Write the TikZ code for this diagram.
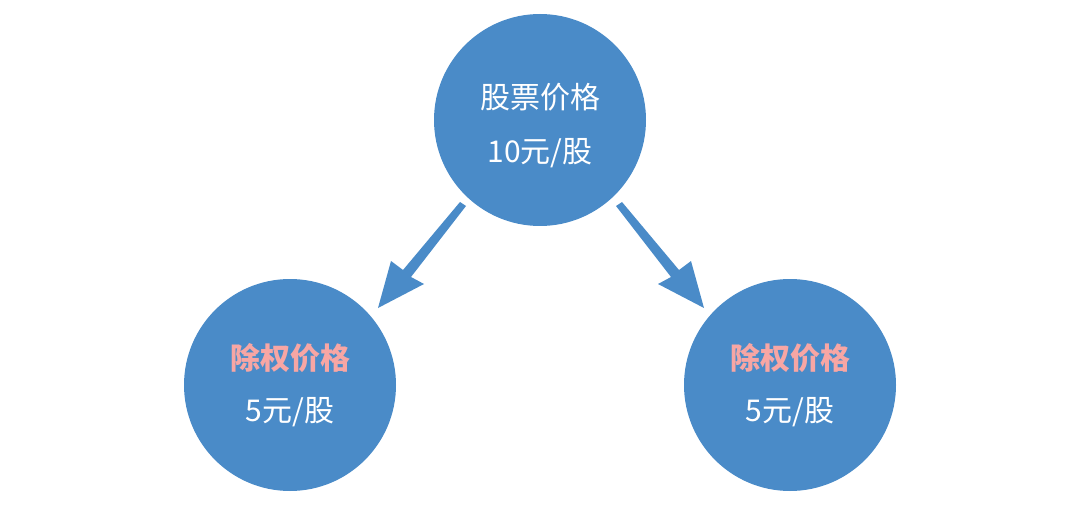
\documentclass[tikz,border=0pt]{standalone}
\usepackage{fontspec}
\setmainfont{Noto Sans CJK SC}
\begin{document}
\begin{tikzpicture}[x=1pt,y=-1pt,
  circ/.style={circle,fill=cblue,minimum size=212pt,inner sep=0pt},
  txt/.style={font=\fontsize{30}{36}\selectfont,text=white},
  pink/.style={font=\fontsize{30}{36}\selectfont\bfseries,text=cpink}]
\definecolor{cblue}{HTML}{4A8BC8}
\definecolor{cpink}{HTML}{F7A6A4}
\useasboundingbox (0,0) rectangle (1080,508);
\node[circ] (top) at (540,120) {};
\node[circ] (left) at (290,385) {};
\node[circ] (right) at (790,385) {};
\node[txt] (t1) at (540,97) {股票价格};
\node[txt] (t2) at (540,153) {10元/股};
\node[pink] (l1) at (290,358) {除权价格};
\node[txt] (l2) at (290,412) {5元/股};
\node[pink] (r1) at (790,358) {除权价格};
\node[txt] (r2) at (790,412) {5元/股};
\fill[cblue] (460,202) -- (466,206) -- (411,277) -- (424,284) -- (378,308) -- (391,261) -- (403,270) -- cycle;
\fill[cblue] (622,202) -- (616,206) -- (671,277) -- (658,284) -- (704,308) -- (691,261) -- (679,270) -- cycle;
\end{tikzpicture}
\end{document}
